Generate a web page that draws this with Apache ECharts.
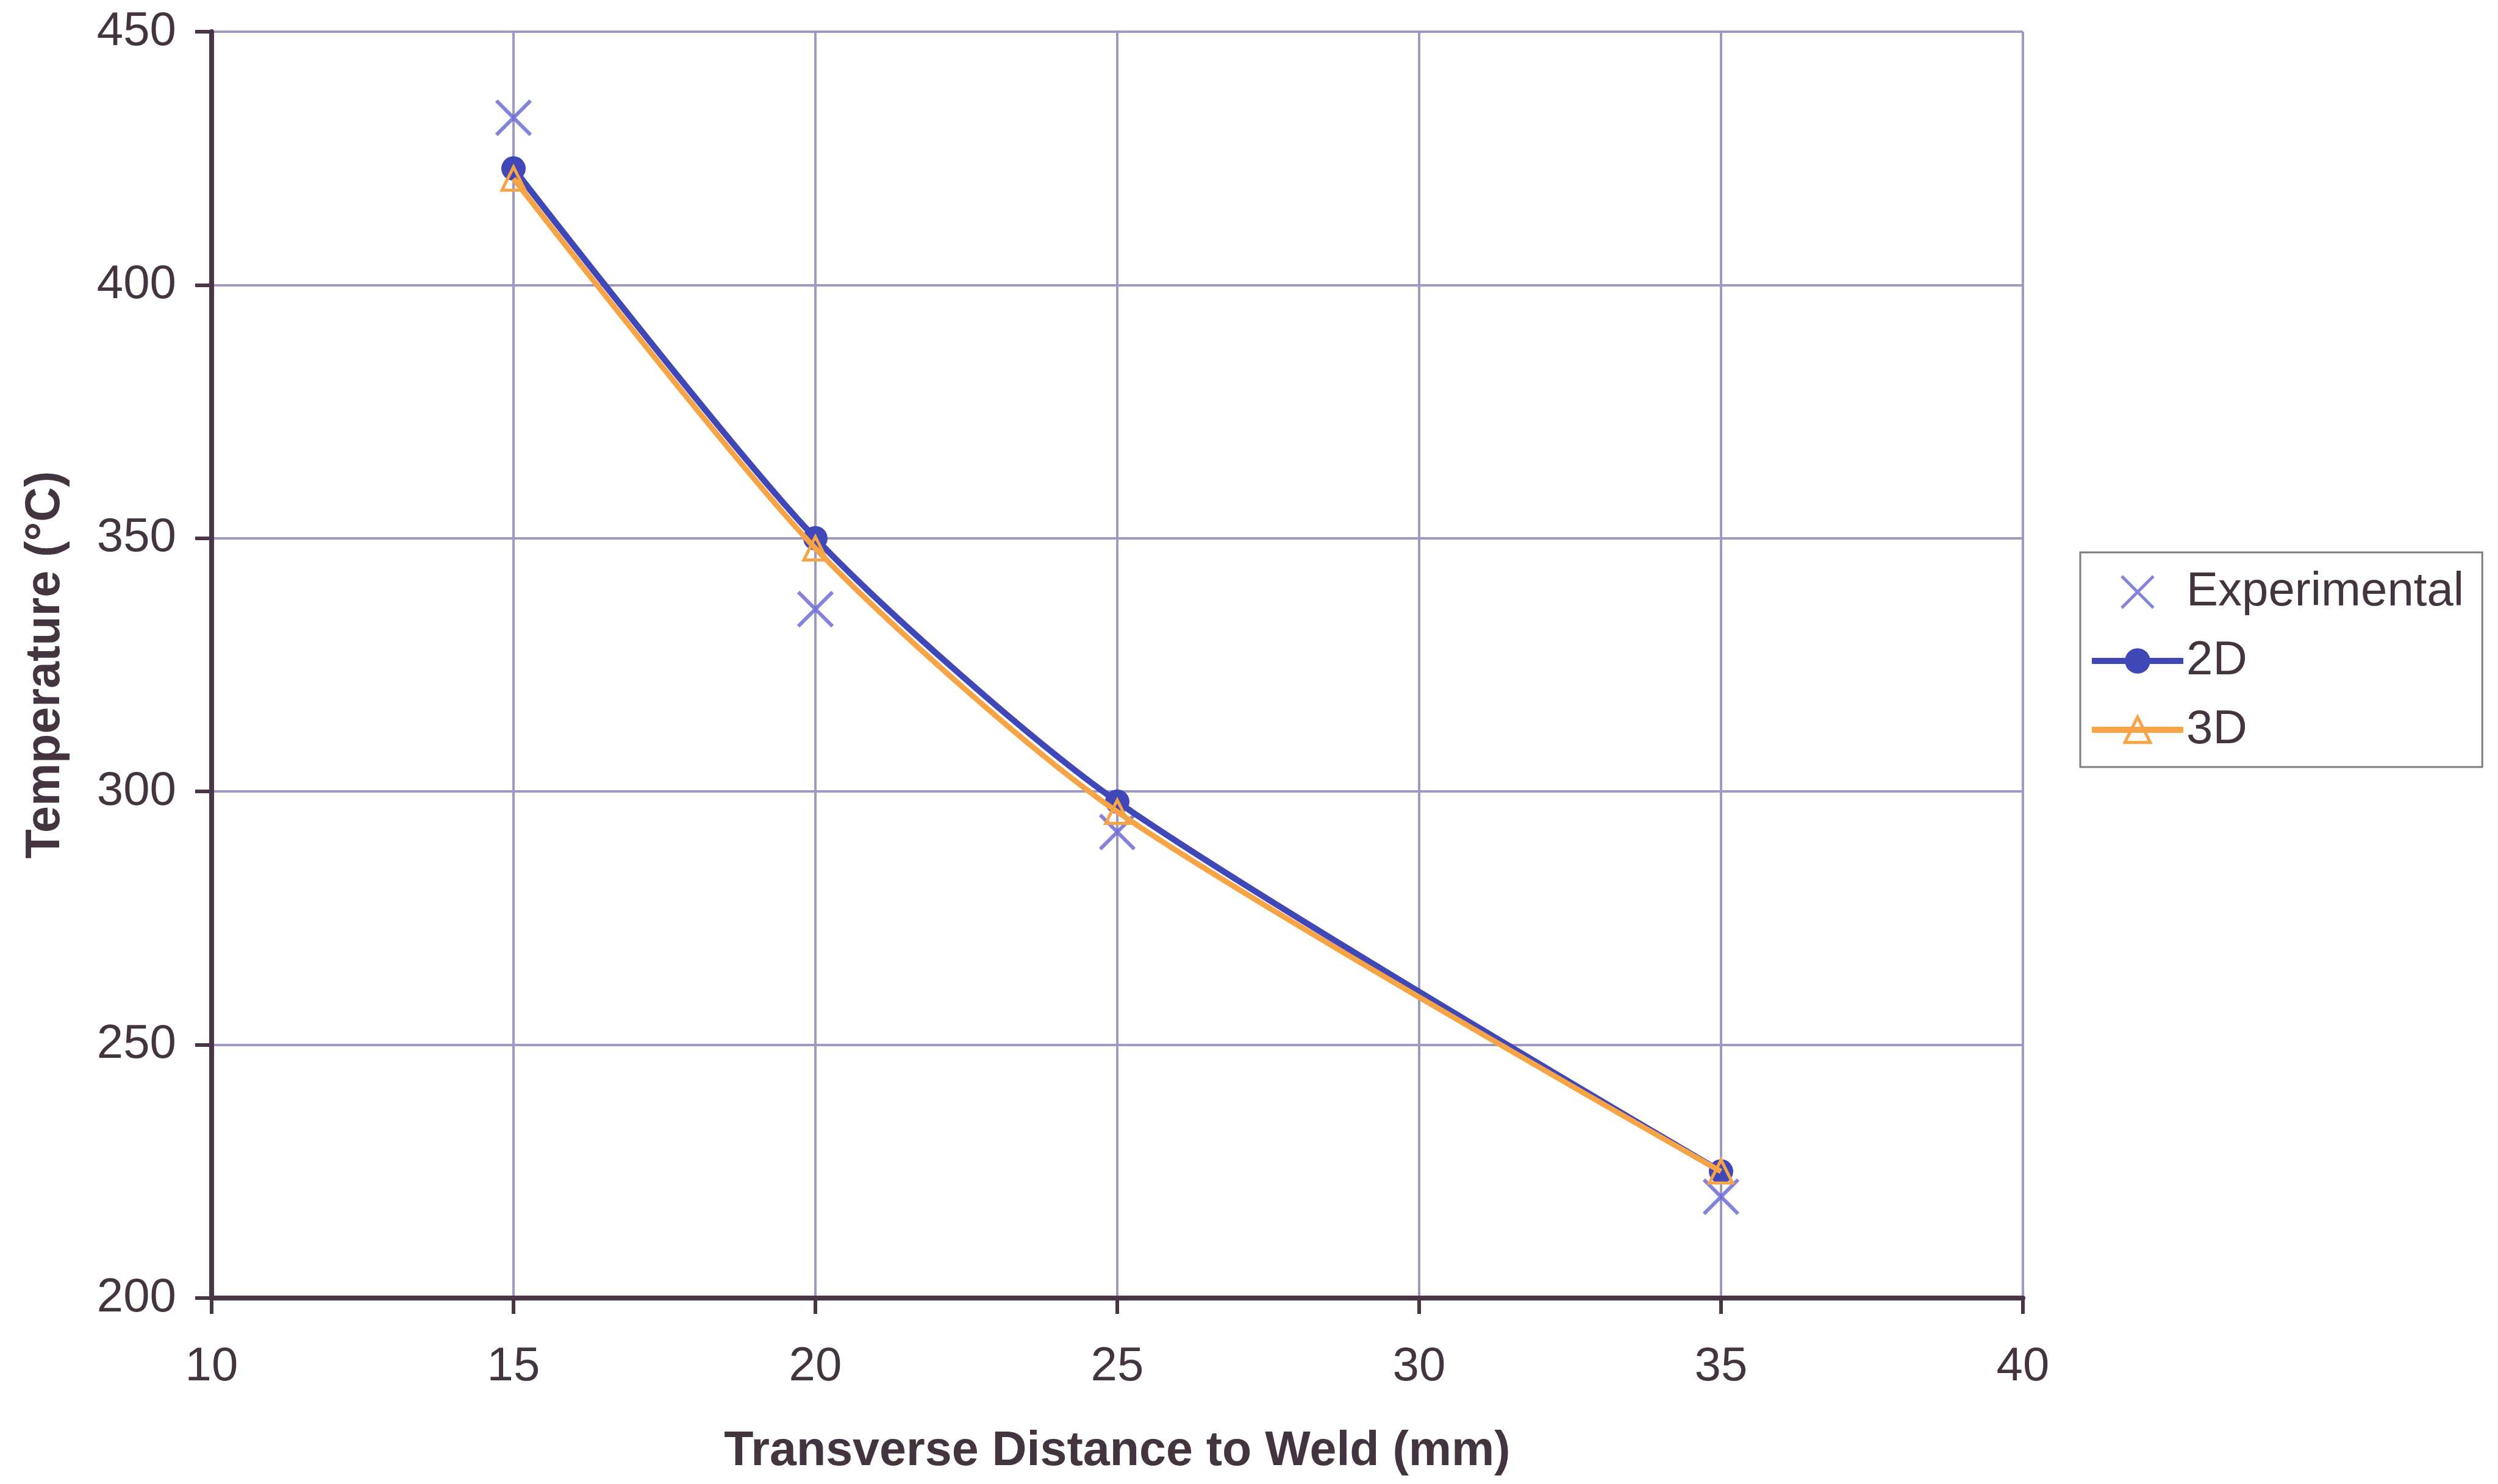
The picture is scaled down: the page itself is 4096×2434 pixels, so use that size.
<!DOCTYPE html>
<html>
<head>
<meta charset="utf-8">
<script src="https://cdn.jsdelivr.net/npm/echarts@6/dist/echarts.min.js"></script>
<style>
html,body{margin:0;padding:0;background:#ffffff;}
#chart{width:4096px;height:2434px;}
</style>
</head>
<body>
<div id="chart"></div>
<script>
// ---- data ----
const distances    = [15, 20, 25, 35];
const experimental = [433, 336, 292, 220];
const model2D      = [423, 350, 298, 225];
const model3D      = [421, 348, 296, 225];
const seriesNames  = ['Experimental', '2D', '3D'];
const xTicks = [10, 15, 20, 25, 30, 35, 40];
const yTicks = [200, 250, 300, 350, 400, 450];
const xTitle = 'Transverse Distance to Weld (mm)';
const yTitle = 'Temperature (°C)';

const pairs = vals => distances.map((d, i) => [d, vals[i]]);

const FONT = '"Liberation Sans", Arial, sans-serif';
const TXT = '#433440';
const AXIS = '#4a3546';
const GRID = '#9d99c2';
const BLUE = '#4048b8';
const XCOL = '#6464d6';
const ORANGE = '#f6a445';
const XPATH = 'path://M0,0L10,10M10,0L0,10';

const chart = echarts.init(document.getElementById('chart'), null, {renderer: 'canvas'});
chart.setOption({
  backgroundColor: '#ffffff',
  animation: false,
  grid: {left: 347, right: 779, top: 52, bottom: 305},
  legend: {
    orient: 'vertical',
    left: 3411, top: 906,
    padding: [26, 30, 22, 14],
    itemWidth: 150, itemHeight: 52, itemGap: 35,
    borderColor: '#7d7d7d', borderWidth: 3,
    backgroundColor: '#ffffff',
    textStyle: {fontFamily: FONT, fontSize: 78, color: TXT},
    data: [
      {name: seriesNames[0], itemStyle: {color: 'rgba(0,0,0,0)', borderColor: XCOL, borderWidth: 5}},
      {name: seriesNames[1], lineStyle: {color: BLUE, width: 10}, itemStyle: {color: BLUE, borderWidth: 0}},
      {name: seriesNames[2], lineStyle: {color: ORANGE, width: 10}, itemStyle: {color: 'rgba(0,0,0,0)', borderColor: ORANGE, borderWidth: 5}}
    ]
  },
  xAxis: {
    type: 'value',
    min: xTicks[0], max: xTicks[xTicks.length - 1], interval: 5,
    name: xTitle, nameLocation: 'middle', nameGap: 213,
    nameTextStyle: {fontFamily: FONT, fontSize: 79, fontWeight: 'bold', color: TXT},
    axisLine: {show: true, onZero: false, lineStyle: {color: AXIS, width: 8}},
    axisTick: {show: true, inside: false, length: 26, lineStyle: {color: AXIS, width: 6}},
    axisLabel: {fontFamily: FONT, fontSize: 78, color: TXT, margin: 74},
    splitLine: {show: true, lineStyle: {color: GRID, width: 4}}
  },
  yAxis: {
    type: 'value',
    min: yTicks[0], max: yTicks[yTicks.length - 1], interval: 50,
    name: yTitle, nameLocation: 'middle', nameGap: 232,
    nameTextStyle: {fontFamily: FONT, fontSize: 79, fontWeight: 'bold', color: TXT},
    axisLine: {show: true, onZero: false, lineStyle: {color: AXIS, width: 8}},
    axisTick: {show: true, inside: false, length: 27, lineStyle: {color: AXIS, width: 6}},
    axisLabel: {fontFamily: FONT, fontSize: 78, color: TXT, margin: 58},
    splitLine: {show: true, lineStyle: {color: GRID, width: 4}}
  },
  series: [
    {
      name: seriesNames[0], type: 'scatter',
      data: pairs(experimental),
      symbol: XPATH,
      symbolSize: 56,
      itemStyle: {color: 'rgba(0,0,0,0)', borderColor: XCOL, borderWidth: 6},
      z: 3
    },
    {
      name: seriesNames[1], type: 'line',
      data: pairs(model2D),
      smooth: 0.25,
      symbol: 'circle', symbolSize: 40,
      lineStyle: {color: BLUE, width: 10},
      itemStyle: {color: BLUE, borderWidth: 0},
      z: 4
    },
    {
      name: seriesNames[2], type: 'line',
      data: pairs(model3D),
      smooth: 0.25,
      symbol: 'triangle', symbolSize: 38,
      lineStyle: {color: ORANGE, width: 9},
      itemStyle: {color: 'rgba(0,0,0,0)', borderColor: ORANGE, borderWidth: 5},
      z: 5
    }
  ]
});
</script>
</body>
</html>
